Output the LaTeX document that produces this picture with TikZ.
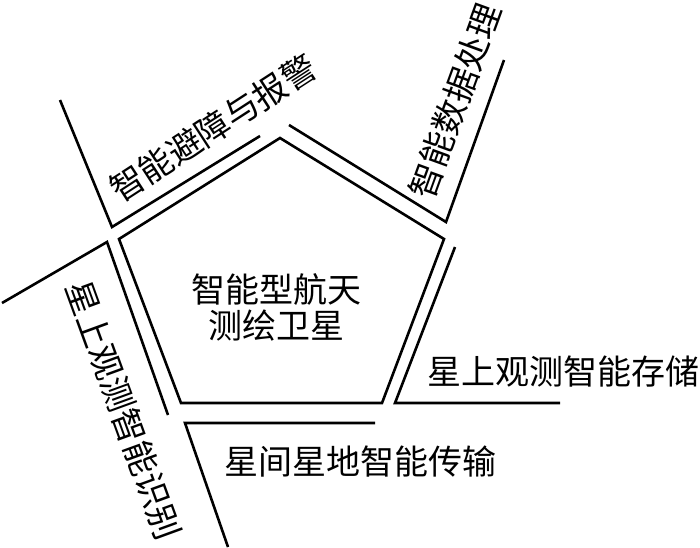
\documentclass[tikz,border=0pt]{standalone}
\usepackage{fontspec}
\newfontfamily\cjk{Noto Sans CJK SC}
\begin{document}
\begin{tikzpicture}[x=1pt,y=-1pt,
  edge/.style={line width=2.6pt, line join=miter, line cap=butt},
  lbl/.style={font=\cjk\fontsize{34}{36}\selectfont, inner sep=0pt, align=center}]
\useasboundingbox (0,0) rectangle (700,547);
% pentagon
\coordinate (pT) at (280,138);
\coordinate (pL) at (119,239);
\coordinate (pBL) at (181,403);
\coordinate (pBR) at (382,403);
\coordinate (pR) at (444,239);
\draw[edge] (pT) -- (pL) -- (pBL) -- (pBR) -- (pR) -- cycle;
% top-left bracket
\coordinate (a1) at (60,100);
\coordinate (a2) at (112,227);
\coordinate (a3) at (260,136);
\draw[edge] (a1) -- (a2) -- (a3);
% top-right bracket
\coordinate (b1) at (289,125);
\coordinate (b2) at (446,222);
\coordinate (b3) at (504,60);
\draw[edge] (b1) -- (b2) -- (b3);
% right bracket
\coordinate (c1) at (455,247);
\coordinate (c2) at (395,403);
\coordinate (c3) at (560,403);
\draw[edge] (c1) -- (c2) -- (c3);
% bottom bracket
\coordinate (d1) at (375,423);
\coordinate (d2) at (185,423);
\coordinate (d3) at (228,547);
\draw[edge] (d1) -- (d2) -- (d3);
% left bracket
\coordinate (e1) at (168,415);
\coordinate (e2) at (107,242);
\coordinate (e3) at (2,303);
\draw[edge] (e1) -- (e2) -- (e3);
% labels
\node[lbl] (center) at (276,307) {智能型航天\\测绘卫星};
\node[lbl, rotate=33] (tl) at (213,128) {智能避障与报警};
\node[lbl, rotate=70] (tr) at (455,101) {智能数据处理};
\node[lbl] (rt) at (563,372) {星上观测智能存储};
\node[lbl] (bt) at (360,462) {星间星地智能传输};
\node[lbl, rotate=-70] (lf) at (124,410) {星上观测智能识别};
\end{tikzpicture}
\end{document}
